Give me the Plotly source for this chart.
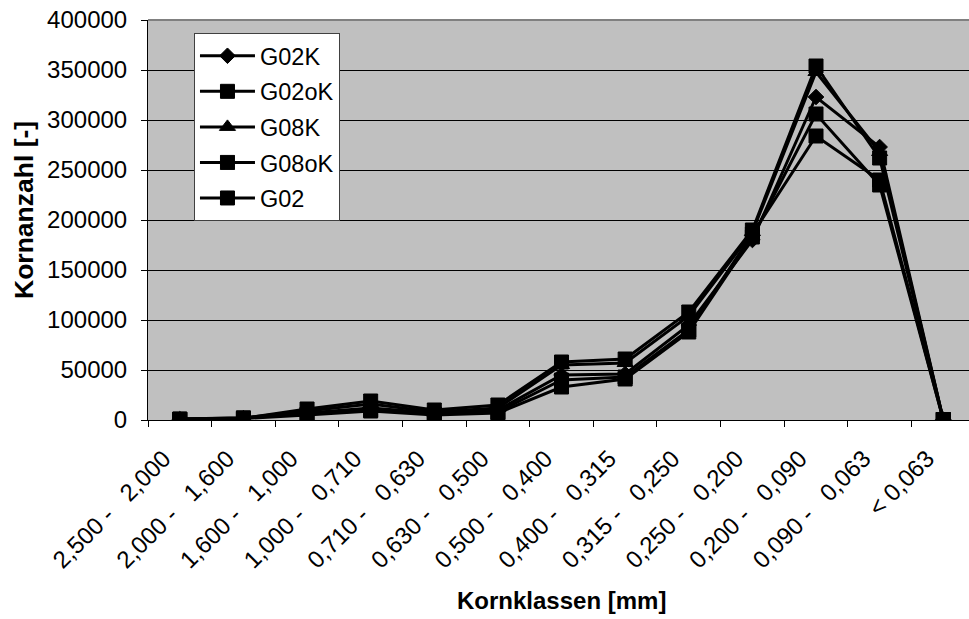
import plotly.graph_objects as go

# Grain-size classes (mm)
classes = [
    "2,500 -   2,000", "2,000 -   1,600", "1,600 -   1,000", "1,000 -   0,710",
    "0,710 -   0,630", "0,630 -   0,500", "0,500 -   0,400", "0,400 -   0,315",
    "0,315 -   0,250", "0,250 -   0,200", "0,200 -   0,090", "0,090 -   0,063",
    "< 0,063",
]

# Grain counts per class for each sample
g02k = [800, 1800, 7000, 12000, 7000, 10000, 45000, 46000, 95000, 180000, 323000, 273000, 500]
g02ok = [600, 1500, 5000, 9000, 5000, 7000, 33000, 41000, 88000, 183000, 306000, 235000, 500]
g08k = [900, 2000, 9000, 16000, 8000, 12000, 55000, 57000, 104000, 188000, 348000, 268000, 500]
g08ok = [700, 1600, 11000, 19000, 10000, 15000, 58000, 61000, 108000, 190000, 354000, 262000, 500]
g02 = [1000, 2200, 6000, 10000, 6000, 8000, 40000, 43000, 90000, 186000, 284000, 240000, 500]

series_names = ["G02K", "G02oK", "G08K", "G08oK", "G02"]
series_values = [g02k, g02ok, g08k, g08ok, g02]
symbols = ["diamond", "square", "triangle-up", "square-x", "square-cross"]
marker_sizes = [12, 14, 14, 14, 14]

y_ticks = [0, 50000, 100000, 150000, 200000, 250000, 300000, 350000, 400000]

FONT = "Liberation Sans, Arial, sans-serif"

labels = [c.replace(" ", "\u00a0") for c in classes]

fig = go.Figure()
for name, vals, sym, ms in zip(series_names, series_values, symbols, marker_sizes):
    fig.add_trace(go.Scatter(
        x=labels, y=vals, name=name, mode="lines+markers",
        legendgroup=name,
        line=dict(color="black", width=3),
        marker=dict(symbol=sym, size=ms, color="black",
                    line=dict(color="black", width=1)),
    ))

fig.update_layout(
    width=969, height=619,
    margin=dict(l=148, r=0, t=20, b=199),
    paper_bgcolor="white",
    plot_bgcolor="#C0C0C0",
    font=dict(family=FONT, size=24, color="black"),
    showlegend=True,
    legend=dict(
        x=0.056, y=0.9675, xanchor="left", yanchor="top",
        bgcolor="white", bordercolor="#404040", borderwidth=1,
        font=dict(family=FONT, size=23.5, color="black"),
        tracegroupgap=2, itemwidth=55,
    ),
    xaxis=dict(
        type="category",
        categoryorder="array", categoryarray=labels,
        range=[-0.5, -0.5 + 821 / 63.62],
        showgrid=False, zeroline=False,
        showline=True, linecolor="black", linewidth=1,
        ticks="outside", tickson="boundaries", ticklen=6,
        tickcolor="black", tickwidth=1,
        tickangle=-45,
        ticklabelstandoff=14, ticklabelshift=-16,
        tickfont=dict(family=FONT, size=24, color="black"),
    ),
    yaxis=dict(
        range=[0, 400000],
        tickvals=y_ticks, ticktext=[str(v) for v in y_ticks],
        showgrid=True, gridcolor="black", gridwidth=1,
        zeroline=False,
        showline=True, linecolor="black", linewidth=1,
        ticks="outside", ticklen=6, tickcolor="black", tickwidth=1,
        ticklabelstandoff=9,
        tickfont=dict(family=FONT, size=24, color="black"),
    ),
    shapes=[
        dict(type="line", xref="paper", yref="paper", x0=0, x1=1, y0=1, y1=1,
             line=dict(color="#808080", width=2), layer="above"),
    ],
    annotations=[
        dict(text="<b>Kornklassen [mm]</b>", xref="paper", yref="paper",
             x=(561 - 148) / 821, y=(420 - 600) / 400,
             xanchor="center", yanchor="middle", showarrow=False,
             font=dict(family=FONT, size=24, color="black")),
        dict(text="<b>Kornanzahl [-]</b>", xref="paper", yref="paper",
             x=(24 - 148) / 821, y=(420 - 210) / 400, textangle=-90,
             xanchor="center", yanchor="middle", showarrow=False,
             font=dict(family=FONT, size=26.5, color="black")),
    ],
)

fig.write_html("out.html")
